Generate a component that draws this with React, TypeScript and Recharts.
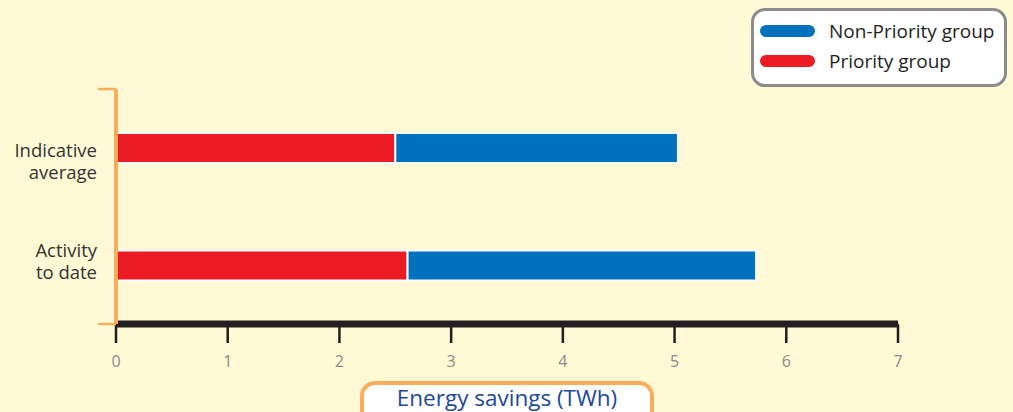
import React from "react";
import { BarChart, Bar, XAxis, YAxis, Legend, LabelList } from "recharts";

const categories = ["Indicative average", "Activity to date"];
const priorityGroup = [2.5, 2.61];
const nonPriorityGroup = [2.53, 3.12];
const xTicks = [0, 1, 2, 3, 4, 5, 6, 7];
const frameTicks = [0, 1, 2];

const data = categories.map((name, i) => ({
  name,
  priority: priorityGroup[i],
  nonPriority: nonPriorityGroup[i],
}));

const FONT = "'Open Sans', sans-serif";
const BG = "#FFF9D6";
const RED = "#ED1C24";
const BLUE = "#0071BC";
const ORANGE = "#FBAD5B";

const legendItems = [
  { label: "Non-Priority group", color: BLUE },
  { label: "Priority group", color: RED },
];

const renderLegend = () => (
  <div
    style={{
      boxSizing: "border-box",
      width: 256,
      height: 79,
      border: "3px solid #8C8C8C",
      borderRadius: 14,
      background: "#FFFFFF",
      padding: "5px 0 0 6px",
      fontFamily: FONT,
    }}
  >
    {legendItems.map((it) => (
      <div key={it.label} style={{ display: "flex", alignItems: "center", height: 30 }}>
        <span
          style={{
            display: "inline-block",
            width: 55,
            height: 12,
            borderRadius: 6,
            background: it.color,
            marginRight: 14,
            flexShrink: 0,
          }}
        />
        <span style={{ fontSize: 19, color: "#231F20", lineHeight: "30px" }}>{it.label}</span>
      </div>
    ))}
  </div>
);

const EmptyTick = () => <g />;

const CategoryLabel = (props: any) => {
  const vb = props.viewBox || props;
  const x = Number(vb.x);
  const cy = Number(vb.y) + Number(vb.height) / 2;
  const name = String(props.value);
  const idx = name.indexOf(" ");
  const lines = [name.slice(0, idx), name.slice(idx + 1)];
  const first = props.index === 0 ? cy + 9 : cy - 8.5;
  const gap = 22.4;
  return (
    <text textAnchor="end" fontFamily={FONT} fontSize={18.5} fill="#333333">
      <tspan x={x - 19} y={first}>
        {lines[0]}
      </tspan>
      <tspan x={x - 19} y={first + gap}>
        {lines[1]}
      </tspan>
    </text>
  );
};

const AxisTitle = (props: any) => {
  const vb = props.viewBox;
  const cx = vb.x + vb.width / 2;
  const top = vb.y + 59;
  return (
    <g>
      <rect
        x={cx - 145}
        y={top}
        width={290}
        height={50}
        rx={13}
        ry={13}
        fill="#FFFFFF"
        stroke={ORANGE}
        strokeWidth={4}
      />
      <text
        x={cx}
        y={top + 23}
        textAnchor="middle"
        fontFamily={FONT}
        fontSize={22.5}
        fill="#22489A"
      >
        Energy savings (TWh)
      </text>
    </g>
  );
};

export default function App() {
  return (
    <div style={{ position: "fixed", left: 0, top: 0, width: 1013, height: 412, background: BG }}>
      <BarChart
        width={1013}
        height={412}
        data={data}
        layout="vertical"
        margin={{ top: 89, right: 115, bottom: 0, left: 0 }}
        style={{ background: BG }}
      >
        <XAxis
          type="number"
          domain={[0, 7]}
          ticks={xTicks}
          interval={0}
          height={88}
          axisLine={{ stroke: "#231F20", strokeWidth: 7 }}
          tickLine={{ stroke: "#231F20", strokeWidth: 2.5 }}
          tickSize={19}
          tickMargin={13}
          tick={{ fill: "#8A8A8A", fontSize: 16, fontFamily: FONT }}
          label={<AxisTitle />}
        />
        <YAxis
          yAxisId="frame"
          type="number"
          domain={[0, 2]}
          ticks={frameTicks}
          interval={0}
          allowDataOverflow
          width={116}
          axisLine={{ stroke: ORANGE, strokeWidth: 4 }}
          tickLine={{ stroke: ORANGE, strokeWidth: 2.5 }}
          tickSize={18}
          tick={<EmptyTick />}
        />
        <YAxis yAxisId={0} type="category" dataKey="name" width={0} hide />
        <Legend
          content={renderLegend}
          layout="vertical"
          align="center"
          verticalAlign="middle"
          wrapperStyle={{ position: "absolute", left: 751, top: 8, width: 256, height: 79 }}
        />
        <Bar
          dataKey="priority"
          stackId="a"
          fill={RED}
          stroke="#FFFFFF"
          strokeWidth={2}
          barSize={30}
          isAnimationActive={false}
        >
          <LabelList dataKey="name" content={<CategoryLabel />} />
        </Bar>
        <Bar
          dataKey="nonPriority"
          stackId="a"
          fill={BLUE}
          stroke="#FFFFFF"
          strokeWidth={2}
          barSize={30}
          isAnimationActive={false}
        />
      </BarChart>
    </div>
  );
}
